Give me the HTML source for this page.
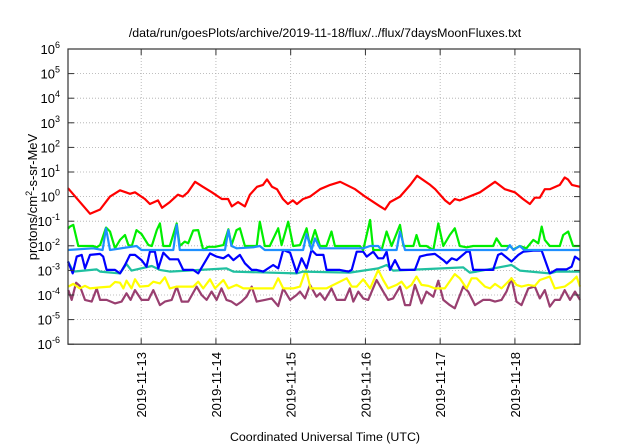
<!DOCTYPE html>
<html><head><meta charset="utf-8"><style>
html,body{margin:0;padding:0;background:#fff;}
svg{display:block;font-family:"Liberation Sans",sans-serif;}
</style></head><body>
<svg id="chart" width="640" height="448" viewBox="0 0 640 448" xmlns="http://www.w3.org/2000/svg">
<text x="325" y="37" font-size="12.4" text-anchor="middle">/data/run/goesPlots/archive/2019-11-18/flux/../flux/7daysMoonFluxes.txt</text>
<text transform="translate(37,197) rotate(-90)" font-size="13" text-anchor="middle">protons/cm<tspan dy="-5" font-size="9">2</tspan><tspan dy="5">-s-sr-MeV</tspan></text>
<text x="325" y="441" font-size="12.4" text-anchor="middle">Coordinated Universal Time (UTC)</text>
<g id="grid"></g>
<g id="series"></g>
<g id="axes"></g>
</svg>
<script>
const dayTickHours=[24,48,72,96,120,144];
const dayTickLabels=["2019-11-13","2019-11-14","2019-11-15","2019-11-16","2019-11-17","2019-11-18"];
const yTickExps=[-6,-5,-4,-3,-2,-1,0,1,2,3,4,5,6];
// red series: flux values
const redHours=[0.5,7.6,10.8,14,17.2,20.4,22,25.2,26.8,29.4,30.7,33.2,35.8,37.4,39,41.3,43.8,46.7,49.9,51.9,53.1,55.1,57.3,58.9,61.2,63.1,64.4,66,67.6,69.5,71.1,72.7,74,76,78.2,81.4,84.7,87.9,92.7,95.9,100.7,102.3,103.9,107.1,110.4,112.6,116.8,118.4,121.6,123.1,124.7,126.3,132.8,137.6,140.8,144,146.6,148.8,150.4,152,153.6,155.2,158.4,160,161,162.3,164.9];
const redValues=[2.2,0.2,0.3,1,1.8,1.3,1.5,0.8,0.5,0.7,0.35,0.6,1.2,1,1.5,4,2.5,1.5,0.8,0.8,0.4,0.6,0.4,1.2,2.5,3,5,2.5,2,0.8,0.5,0.7,0.5,0.8,1,2,3,4,2,1,0.4,0.3,0.6,1,3,7,3,2,0.7,0.5,0.8,0.7,1.5,4,2,1.5,0.8,0.5,0.9,0.9,2,2,3,6,5,3,2.5];
// other series: log10 of flux
const greenHours=[0.5,1.1,2.2,3.8,8.6,9.7,10.8,12.7,14,15.6,17.2,18.8,19.9,21,22.5,24.1,26.3,27.4,29,30,31.1,33.2,35.4,36.4,38,39.1,40.7,42.3,43.9,45.5,47.7,50.4,52,53,54.6,55.7,57.3,61.1,62.1,63.7,65.3,68,69.1,71.2,72.8,75,77.1,78.2,79.8,81.4,83.5,85.1,86.2,94.2,95.3,97.5,98.5,101.2,102.8,104.4,107.1,108.2,111.4,112.4,113.5,115.6,117.8,119.4,121,123.1,124.7,126.3,128.5,130.6,137,138.1,139.7,142.4,143.5,145.6,147.7,149.9,151.5,152.6,153.6,155.2,158.4,159.5,161.1,162.7,164.9];
const greenLog=[-1.3,-1.22,-1.15,-2.01,-2.01,-2.06,-1.97,-1.26,-1.42,-2.10,-1.76,-1.56,-1.97,-2.01,-1.36,-1.52,-1.97,-2.01,-1.36,-1.09,-2.01,-2.01,-1.09,-2.01,-1.83,-1.90,-1.38,-1.36,-2.17,-2.04,-2.04,-1.97,-1.33,-1.97,-1.36,-1.29,-2.01,-2.01,-1.02,-2.01,-2.01,-1.29,-1.97,-1.02,-2.01,-1.97,-1.29,-2.01,-1.36,-2.01,-2.01,-1.42,-2.01,-2.01,-2.17,-0.95,-2.17,-2.17,-1.42,-2.01,-1.15,-2.01,-2.01,-1.56,-2.01,-2.01,-2.17,-1.09,-2.01,-1.56,-1.29,-2.01,-2.06,-2.01,-2.01,-1.70,-2.01,-2.01,-2.15,-2.01,-2.10,-1.76,-1.90,-1.22,-1.76,-2.01,-2.01,-1.56,-1.42,-2.01,-2.01];
const skyHours=[0.5,8.6,11.6,12.7,14,22.5,24.1,34.3,35.4,36.4,50.9,52,53,54.6,60,62.1,63.7,76,77.1,78.7,79.8,81.4,95.3,97.5,100.1,101.2,106,107.1,108.7,141.3,142.4,143.5,145.6,147,164.9];
const skyLog=[-2.17,-2.10,-2.17,-1.29,-2.17,-2.01,-2.17,-2.17,-1.15,-2.17,-2.17,-1.36,-2.01,-2.10,-2.06,-2.01,-2.17,-2.17,-1.52,-2.17,-1.70,-2.10,-2.10,-2.01,-2.01,-2.17,-2.17,-1.42,-2.17,-2.17,-1.97,-2.17,-2.01,-2.17,-2.17];
const blueHours=[0.5,2,3.3,4.9,5.96,7.56,10.8,11.8,12.9,15.6,17.2,18.8,20.4,22,24.1,25.7,26.8,28.4,29.5,31.1,33.2,35.9,37.5,40.7,42.3,46.1,48.2,50.4,52,53.6,55.7,57.3,59.5,61.1,63.2,66.4,68,69.6,71.8,73.9,75.5,77.1,78.7,80.3,82.5,83.5,87.8,90.5,91.6,93.2,95.3,96.4,98.5,100.1,101.7,102.8,103.9,105.5,107.1,111.9,113.5,115.6,118.3,121,122.1,123.7,125.3,128.5,129.5,130.6,133.8,137,138.6,139.7,142.9,145.1,146.7,149.9,152.6,155.2,157.4,160.6,162.2,163.3,164.9];
const blueLog=[-2.64,-3.12,-2.44,-2.37,-2.92,-2.37,-2.33,-2.44,-2.98,-2.98,-3.12,-2.78,-2.37,-2.37,-2.58,-2.85,-2.24,-2.24,-2.92,-2.28,-2.55,-2.55,-2.98,-2.98,-3.12,-2.31,-2.44,-2.51,-2.37,-2.58,-2.37,-2.71,-2.98,-2.98,-3.05,-2.78,-2.92,-2.17,-2.28,-3.09,-2.51,-2.92,-2.17,-2.37,-2.37,-2.98,-2.98,-3.05,-2.98,-2.24,-2.24,-2.44,-2.24,-2.51,-2.51,-2.24,-2.98,-2.58,-2.98,-2.98,-2.44,-2.37,-2.33,-2.58,-2.71,-2.51,-2.58,-2.24,-2.24,-2.98,-2.98,-2.98,-2.37,-2.31,-2.64,-2.37,-2.24,-2.20,-2.20,-3.12,-2.96,-2.96,-2.85,-2.44,-2.58];
const tealHours=[0.5,2.2,9.7,10.8,17.2,19.3,20.9,27.4,30,33.2,51.4,53.6,73.9,76,91,100.1,102.8,104.9,127.4,129.5,131.7,142.9,145.6,155.2,157.4,164.9];
const tealLog=[-2.64,-3.05,-2.96,-3.05,-3.12,-2.74,-3.01,-2.82,-2.98,-3.05,-2.92,-3.05,-3.12,-3.05,-3.09,-2.92,-2.78,-3.01,-2.88,-3.09,-3.05,-2.78,-3.01,-3.12,-3.05,-3.05];
const yellowHours=[0.6,2.2,4.3,5.96,7.56,10.8,14,15.6,17.2,18.3,19.3,20.9,22,23.6,26.3,27.9,30,31.6,33.2,35.4,40.7,42.3,43.9,46.1,47.7,50.4,52,54.6,56.8,66.4,68,69.6,72.8,75,76.9,78.4,83.5,90,91.6,93.2,95.3,97.5,100.1,101.7,103.3,106,107.6,109.2,110.8,112.4,114,116.2,118.3,121.5,124.7,126.3,128.5,130.1,131.7,134.4,136,137.6,139.7,141.3,142.9,144.5,146.1,148.3,150.4,152,155.2,156.8,160,162.2,163.8,164.9];
const yellowLog=[-3.66,-3.55,-3.73,-3.63,-3.73,-3.69,-3.66,-3.47,-3.50,-3.73,-3.42,-3.73,-3.36,-3.66,-3.63,-3.46,-3.53,-3.28,-3.73,-3.66,-3.66,-3.46,-3.73,-3.36,-3.73,-3.39,-3.73,-3.59,-3.73,-3.73,-3.32,-3.73,-3.73,-3.66,-2.98,-3.73,-3.73,-3.32,-3.66,-3.66,-3.36,-3.73,-2.98,-3.39,-3.73,-3.59,-3.46,-3.73,-3.59,-3.25,-3.59,-3.63,-3.73,-3.73,-3.15,-3.32,-3.73,-3.32,-3.32,-3.66,-3.73,-3.55,-3.73,-3.53,-3.32,-3.59,-3.66,-3.59,-3.63,-3.39,-3.25,-3.73,-3.66,-3.46,-3.25,-3.66];
const purpleHours=[0.6,1.7,3.1,4.3,5.96,8.1,9.7,10.8,12.9,15.6,17.7,19.3,20.6,22,24.1,26.3,27.9,30,31.6,33.8,35.4,37,39.1,41.8,43.4,45,46.6,48.2,49.8,51.4,53,54.6,56.2,57.8,59.5,61.1,63.7,65.9,68,69.6,71.8,73.9,75,76.6,78.2,80.3,81.4,83,85.1,86.8,89.4,91,92.1,93.7,95.3,96.9,99.6,101.7,103.3,104.9,107.1,108.7,110.3,111.9,114,115.6,117.8,119.4,121,123.1,124.7,127.4,129,131.2,133.8,136,137.6,139.7,141.3,142.9,144.5,146.1,148.3,150.4,152,153.6,155.2,156.8,158.4,160,161.7,163.3,164.9];
const purpleLog=[-3.80,-4.20,-3.50,-3.63,-4.20,-4.27,-3.73,-4.20,-4.20,-4.34,-4.27,-3.93,-4.20,-3.80,-4.20,-4.20,-3.80,-4.41,-4.27,-4.20,-3.66,-4.27,-4.27,-3.66,-4.00,-4.20,-3.86,-4.20,-3.73,-4.20,-4.27,-4.41,-4.27,-4.07,-3.66,-4.27,-4.20,-4.14,-4.45,-3.73,-4.20,-4.00,-3.86,-4.14,-3.59,-4.07,-3.93,-4.20,-3.73,-4.20,-4.20,-3.73,-4.27,-3.86,-4.14,-4.20,-3.39,-3.86,-4.20,-4.14,-3.66,-4.41,-4.41,-3.59,-4.34,-3.86,-4.07,-3.42,-4.20,-4.41,-4.54,-3.66,-3.86,-4.41,-4.20,-4.20,-4.27,-4.20,-3.86,-3.32,-4.27,-4.41,-3.73,-3.66,-4.14,-3.80,-4.47,-4.20,-4.20,-3.80,-4.20,-3.86,-4.20];

const NS="http://www.w3.org/2000/svg";
const L=68,R=580,T=49,B=344.2;
const H0=0.5,H1=164.9;
function xScale(h){return L+(h-H0)/(H1-H0)*(R-L);}
function yScaleLog(e){return T+(6-e)/12*(B-T);}
function yScale(v){return yScaleLog(Math.log10(v));}
function mk(tag,attrs,parent){const el=document.createElementNS(NS,tag);for(const k in attrs)el.setAttribute(k,attrs[k]);parent.appendChild(el);return el;}
const grid=document.getElementById('grid'),axes=document.getElementById('axes'),ser=document.getElementById('series');
yTickExps.forEach(e=>{
  const y=yScaleLog(e);
  if(e>-6&&e<6){const g=mk('line',{x1:L,x2:R,y1:y,y2:y,stroke:'#aaa','stroke-width':0.8,'stroke-dasharray':'1,2'},grid);
  
  }
  const t=mk('line',{x1:L,x2:L+6,y1:y,y2:y,stroke:'#333'},axes);
  
  
  mk('line',{x1:R-6,x2:R,y1:y,y2:y,stroke:'#333'},axes);
  const tx=mk('text',{x:L-8,y:y+5,'font-size':13,'text-anchor':'end'},axes);
  
  
  tx.textContent='10';
  const sp=mk('tspan',{dy:-6,'font-size':9},tx);sp.textContent=String(e);
});
dayTickHours.forEach((h,i)=>{
  const x=xScale(h);
  const g=mk('line',{x1:x,x2:x,y1:T,y2:B,stroke:'#aaa','stroke-width':0.8,'stroke-dasharray':'1,2'},grid);
  
  
  mk('line',{x1:x,x2:x,y1:B-6,y2:B,stroke:'#333'},axes);
  mk('line',{x1:x,x2:x,y1:T,y2:T+6,stroke:'#333'},axes);
  const tx=mk('text',{transform:`translate(${x+5},352) rotate(-90)`,'font-size':13,'text-anchor':'end'},axes);
  
  
  tx.textContent=dayTickLabels[i];
});
const frame=mk('rect',{x:L,y:T,width:R-L,height:B-T,fill:'none',stroke:'#333','stroke-width':1.2},axes);


function drawSeries(hours,ys,color,name){
  const d=hours.map((h,i)=>(i?'L':'M')+xScale(h).toFixed(1)+','+ys[i].toFixed(1)).join(' ');
  const p=mk('path',{d:d,fill:'none',stroke:color,'stroke-width':2.2,'stroke-linejoin':'round'},ser);
  
  
}
drawSeries(purpleHours,purpleLog.map(yScaleLog),'#993f70','series-purple');
drawSeries(yellowHours,yellowLog.map(yScaleLog),'#ffff00','series-yellow');
drawSeries(tealHours,tealLog.map(yScaleLog),'#20c0a0','series-teal');
drawSeries(blueHours,blueLog.map(yScaleLog),'#0000ff','series-blue');
drawSeries(greenHours,greenLog.map(yScaleLog),'#00ee00','series-green');
drawSeries(skyHours,skyLog.map(yScaleLog),'#1e8fff','series-light-blue');
drawSeries(redHours,redValues.map(yScale),'#ff0000','series-red');
</script>
</body></html>
